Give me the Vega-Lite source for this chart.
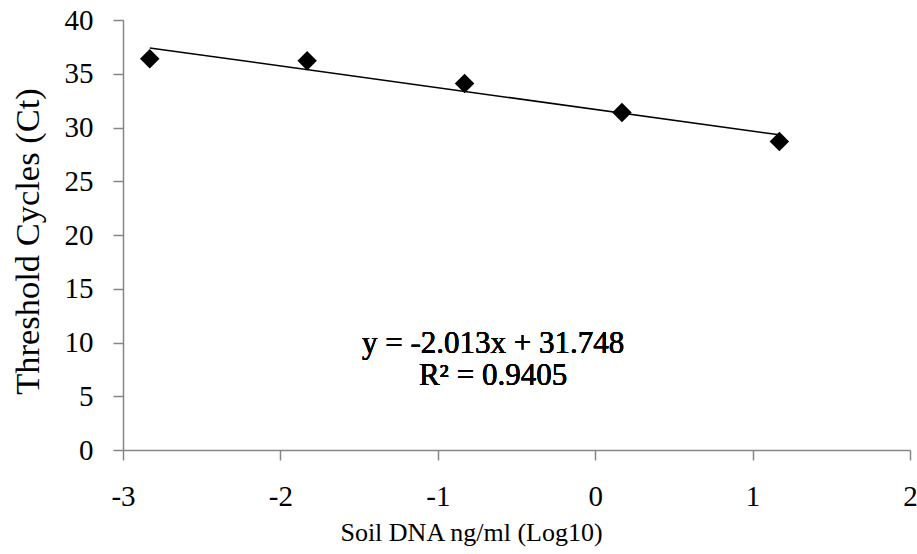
{
  "$schema": "https://vega.github.io/schema/vega-lite/v6.json",
  "width": 787,
  "height": 430,
  "autosize": {"type": "none"},
  "padding": {"left": 123, "top": 20, "right": 7, "bottom": 104},
  "background": "white",
  "config": {
    "view": {"stroke": null},
    "font": "Liberation Serif",
    "axis": {
      "grid": false,
      "domainColor": "#868686",
      "domainWidth": 1.5,
      "tickColor": "#868686",
      "tickWidth": 1.5,
      "tickSize": 10,
      "labelColor": "black",
      "titleColor": "black",
      "labelFont": "Liberation Serif",
      "labelFontWeight": "normal",
      "titleFont": "Liberation Serif",
      "titleFontWeight": "normal",
      "labelFontSize": 29,
      "labelFlush": false,
      "labelOverlap": false
    }
  },
  "data": {
    "values": [
      {"logDNA": -2.83, "Ct": 36.4},
      {"logDNA": -1.83, "Ct": 36.2},
      {"logDNA": -0.83, "Ct": 34.1},
      {"logDNA": 0.17, "Ct": 31.4},
      {"logDNA": 1.17, "Ct": 28.7}
    ]
  },
  "layer": [
    {
      "transform": [
        {"regression": "Ct", "on": "logDNA", "method": "linear", "extent": [-2.83, 1.17]}
      ],
      "mark": {"type": "line", "color": "black", "strokeWidth": 1.5},
      "encoding": {
        "x": {"field": "logDNA", "type": "quantitative"},
        "y": {"field": "Ct", "type": "quantitative"}
      }
    },
    {
      "mark": {"type": "point", "shape": "diamond", "filled": true, "color": "black", "size": 380, "opacity": 1},
      "encoding": {
        "x": {
          "field": "logDNA",
          "type": "quantitative",
          "scale": {"domain": [-3, 2], "nice": false, "zero": false},
          "axis": {
            "values": [-3, -2, -1, 0, 1, 2],
            "labelExpr": "'' + datum.value",
            "labelPadding": 22,
            "title": "Soil DNA ng/ml (Log10)",
            "titleFontSize": 26,
            "titlePadding": 8,
            "titleX": 348,
            "titleAlign": "center"
          }
        },
        "y": {
          "field": "Ct",
          "type": "quantitative",
          "scale": {"domain": [0, 40], "nice": false},
          "axis": {
            "values": [0, 5, 10, 15, 20, 25, 30, 35, 40],
            "labelExpr": "'' + datum.value",
            "labelPadding": 20,
            "title": "Threshold Cycles (Ct)",
            "titleFontSize": 34.5,
            "titlePadding": 19,
            "titleY": 221,
            "titleAlign": "center"
          }
        }
      }
    },
    {
      "mark": {"type": "text", "align": "center", "baseline": "alphabetic", "color": "black", "font": "Liberation Serif", "fontWeight": "normal", "fontSize": 31},
      "encoding": {
        "x": {"datum": -0.649},
        "y": {"datum": 9.02},
        "text": {"value": "y = -2.013x + 31.748"}
      }
    },
    {
      "mark": {"type": "text", "align": "center", "baseline": "alphabetic", "color": "black", "font": "Liberation Serif", "fontWeight": "normal", "fontSize": 31},
      "encoding": {
        "x": {"datum": -0.649},
        "y": {"datum": 6.05},
        "text": {"value": "R² = 0.9405"}
      }
    }
  ]
}
